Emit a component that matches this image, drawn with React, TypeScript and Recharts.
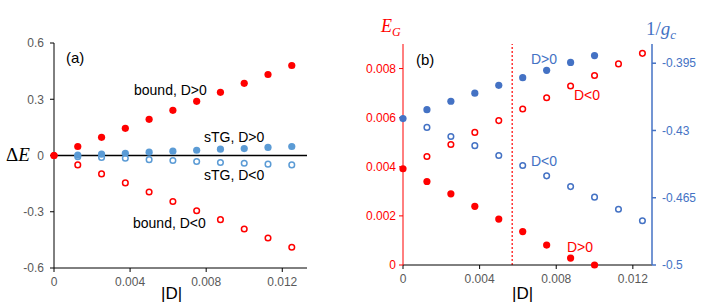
import React from 'react';
import {
  ScatterChart,
  Scatter,
  XAxis,
  YAxis,
  ReferenceLine,
} from 'recharts';

// |D| values shared by both panels
const dValues = [0, 0.00125, 0.0025, 0.00375, 0.005, 0.00625, 0.0075, 0.00875, 0.01, 0.01125, 0.0125];

// panel (a): ΔE
const boundPos = [0, 0.048, 0.097, 0.145, 0.193, 0.241, 0.289, 0.337, 0.385, 0.432, 0.48];
const boundNeg = [0, -0.05, -0.098, -0.146, -0.195, -0.245, -0.295, -0.342, -0.392, -0.44, -0.489];
const stgPos = [null, 0.002, 0.007, 0.012, 0.018, 0.023, 0.028, 0.034, 0.037, 0.043, 0.048];
const stgNeg = [null, -0.007, -0.01, -0.015, -0.022, -0.027, -0.032, -0.037, -0.041, -0.046, -0.05];

// panel (b): E_G (left axis) and 1/g_c (right axis)
const egPos = [0.00392, 0.0034, 0.0029, 0.00239, 0.00187, 0.00136, 0.00081, 0.00028, 0];
const egNeg = [null, 0.00442, 0.00491, 0.0054, 0.00588, 0.00635, 0.00681, 0.00729, 0.00772, 0.00819, 0.00862];
const gcPos = [-0.4238, -0.4192, -0.4148, -0.4106, -0.4065, -0.4025, -0.3987, -0.3946, -0.391];
const gcNeg = [null, -0.4284, -0.4331, -0.4379, -0.443, -0.4482, -0.4536, -0.4592, -0.4647, -0.471, -0.477];

const ticksA_x = [0, 0.004, 0.008, 0.012];
const ticksA_y = [-0.6, -0.3, 0, 0.3, 0.6];
const ticksB_eg = [0, 0.002, 0.004, 0.006, 0.008];
const ticksB_gc = [-0.5, -0.465, -0.43, -0.395];
const gapLine = 0.0057;

const RED = '#FF0000';
const BLUE_A = '#5B9BD5';
const BLUE_B = '#4472C4';
const TICK_GREY = '#595959';
const FONT = '"Liberation Sans", Arial, sans-serif';
const MATH = '"Liberation Serif", "DejaVu Serif", serif';

const toRows = (vals: (number | null)[]) =>
  vals
    .map((v, i) => ({ d: dValues[i], v }))
    .filter((r) => r.v !== null);

const dot = (color: string) => (props: any) =>
  <circle cx={props.cx} cy={props.cy} r={3.6} fill={color} />;

const ring = (color: string) => (props: any) =>
  <circle cx={props.cx} cy={props.cy} r={2.8} fill="#fff" stroke={color} strokeWidth={1.5} />;

const tickStyle = (color: string) => ({ fill: color, fontSize: 12, fontFamily: FONT });

function PanelA() {
  return (
    <ScatterChart width={354} height={308} margin={{ top: 43, right: 47, bottom: 18, left: 10 }}>
      <XAxis
        type="number"
        dataKey="d"
        domain={[0, 0.0133]}
        ticks={ticksA_x}
        height={22}
        tickSize={4}
        tickMargin={5}
        stroke="#000"
        tick={tickStyle(TICK_GREY)}
      />
      <XAxis xAxisId="top" orientation="top" type="number" domain={[0, 0.0133]} height={0} tick={false} tickLine={false} stroke="#000" />
      <YAxis
        type="number"
        dataKey="v"
        domain={[-0.6, 0.6]}
        ticks={ticksA_y}
        width={44}
        tickSize={4}
        tickMargin={6}
        stroke="#000"
        tick={tickStyle(TICK_GREY)}
      />
      <YAxis yAxisId="right" orientation="right" type="number" domain={[-0.6, 0.6]} width={0} tick={false} tickLine={false} stroke="#000" />
      <ReferenceLine y={0} stroke="#000" strokeWidth={1.5} />
      <Scatter data={toRows(stgNeg)} shape={ring(BLUE_A)} isAnimationActive={false} />
      <Scatter data={toRows(stgPos)} shape={dot(BLUE_A)} isAnimationActive={false} />
      <Scatter data={toRows(boundNeg)} shape={ring(RED)} isAnimationActive={false} />
      <Scatter data={toRows(boundPos)} shape={dot(RED)} isAnimationActive={false} />
    </ScatterChart>
  );
}

function PanelB() {
  return (
    <ScatterChart width={354} height={308} margin={{ top: 44, right: 10, bottom: 21, left: 10 }}>
      <XAxis
        type="number"
        dataKey="d"
        domain={[0, 0.013]}
        ticks={ticksA_x}
        height={22}
        tickSize={4}
        tickMargin={5}
        stroke="#000"
        tick={tickStyle(TICK_GREY)}
      />
      <XAxis xAxisId="top" orientation="top" type="number" domain={[0, 0.013]} height={0} tick={false} tickLine={false} stroke="#000" />
      <YAxis
        yAxisId="eg"
        type="number"
        dataKey="v"
        domain={[0, 0.009]}
        ticks={ticksB_eg}
        width={39}
        tickSize={4}
        tickMargin={3}
        stroke={RED}
        tick={tickStyle(RED)}
      />
      <YAxis
        yAxisId="gc"
        orientation="right"
        type="number"
        dataKey="v"
        domain={[-0.5, -0.385]}
        ticks={ticksB_gc}
        width={46}
        tickSize={4}
        tickMargin={6}
        stroke={BLUE_B}
        strokeWidth={1.5}
        tick={tickStyle(BLUE_B)}
      />
      <ReferenceLine x={gapLine} yAxisId="eg" stroke={RED} strokeDasharray="2 2" strokeWidth={1.2} />
      <Scatter yAxisId="gc" data={toRows(gcNeg)} shape={ring(BLUE_B)} isAnimationActive={false} />
      <Scatter yAxisId="gc" data={toRows(gcPos)} shape={dot(BLUE_B)} isAnimationActive={false} />
      <Scatter yAxisId="eg" data={toRows(egNeg)} shape={ring(RED)} isAnimationActive={false} />
      <Scatter yAxisId="eg" data={toRows(egPos)} shape={dot(RED)} isAnimationActive={false} />
    </ScatterChart>
  );
}

export default function App() {
  const txt = { fontFamily: FONT, fontSize: 14 };
  return (
    <div style={{ position: 'absolute', left: 0, top: 0, width: 708, height: 308, background: '#fff' }}>
      <div style={{ position: 'absolute', left: 0, top: 0 }}>
        <PanelA />
      </div>
      <div style={{ position: 'absolute', left: 354, top: 0 }}>
        <PanelB />
      </div>
      <svg width={708} height={308} style={{ position: 'absolute', left: 0, top: 0, pointerEvents: 'none' }}>
        {/* panel (a) labels */}
        <text x={66} y={63} style={{ ...txt, fontSize: 15 }} fill="#000">(a)</text>
        <text x={134} y={95} style={txt} fill="#000">bound, D&gt;0</text>
        <text x={204} y={142} style={txt} fill="#000">sTG, D&gt;0</text>
        <text x={204} y={180} style={txt} fill="#000">sTG, D&lt;0</text>
        <text x={133} y={228} style={txt} fill="#000">bound, D&lt;0</text>
        <text x={6} y={161} style={{ fontFamily: MATH, fontSize: 19 }} fill="#000">
          Δ<tspan fontStyle="italic">E</tspan>
        </text>
        <text x={161} y={299} style={{ fontFamily: FONT, fontSize: 17 }} fill="#000">|D|</text>
        {/* panel (b) labels */}
        <text x={416} y={65} style={{ ...txt, fontSize: 15 }} fill="#000">(b)</text>
        <text x={531} y={64} style={txt} fill={BLUE_B}>D&gt;0</text>
        <text x={574} y={100} style={txt} fill={RED}>D&lt;0</text>
        <text x={531} y={166} style={txt} fill={BLUE_B}>D&lt;0</text>
        <text x={567} y={252} style={txt} fill={RED}>D&gt;0</text>
        <text x={512} y={299} style={{ fontFamily: FONT, fontSize: 17 }} fill="#000">|D|</text>
        <text x={381} y={32} style={{ fontFamily: MATH, fontSize: 18, fontStyle: 'italic' }} fill={RED}>
          E<tspan fontSize={12} dy={4}>G</tspan>
        </text>
        <text x={646} y={35} style={{ fontFamily: MATH, fontSize: 19 }} fill={BLUE_B}>
          1/<tspan fontStyle="italic">g</tspan>
          <tspan fontStyle="italic" fontSize={13} dy={4}>c</tspan>
        </text>
      </svg>
    </div>
  );
}
